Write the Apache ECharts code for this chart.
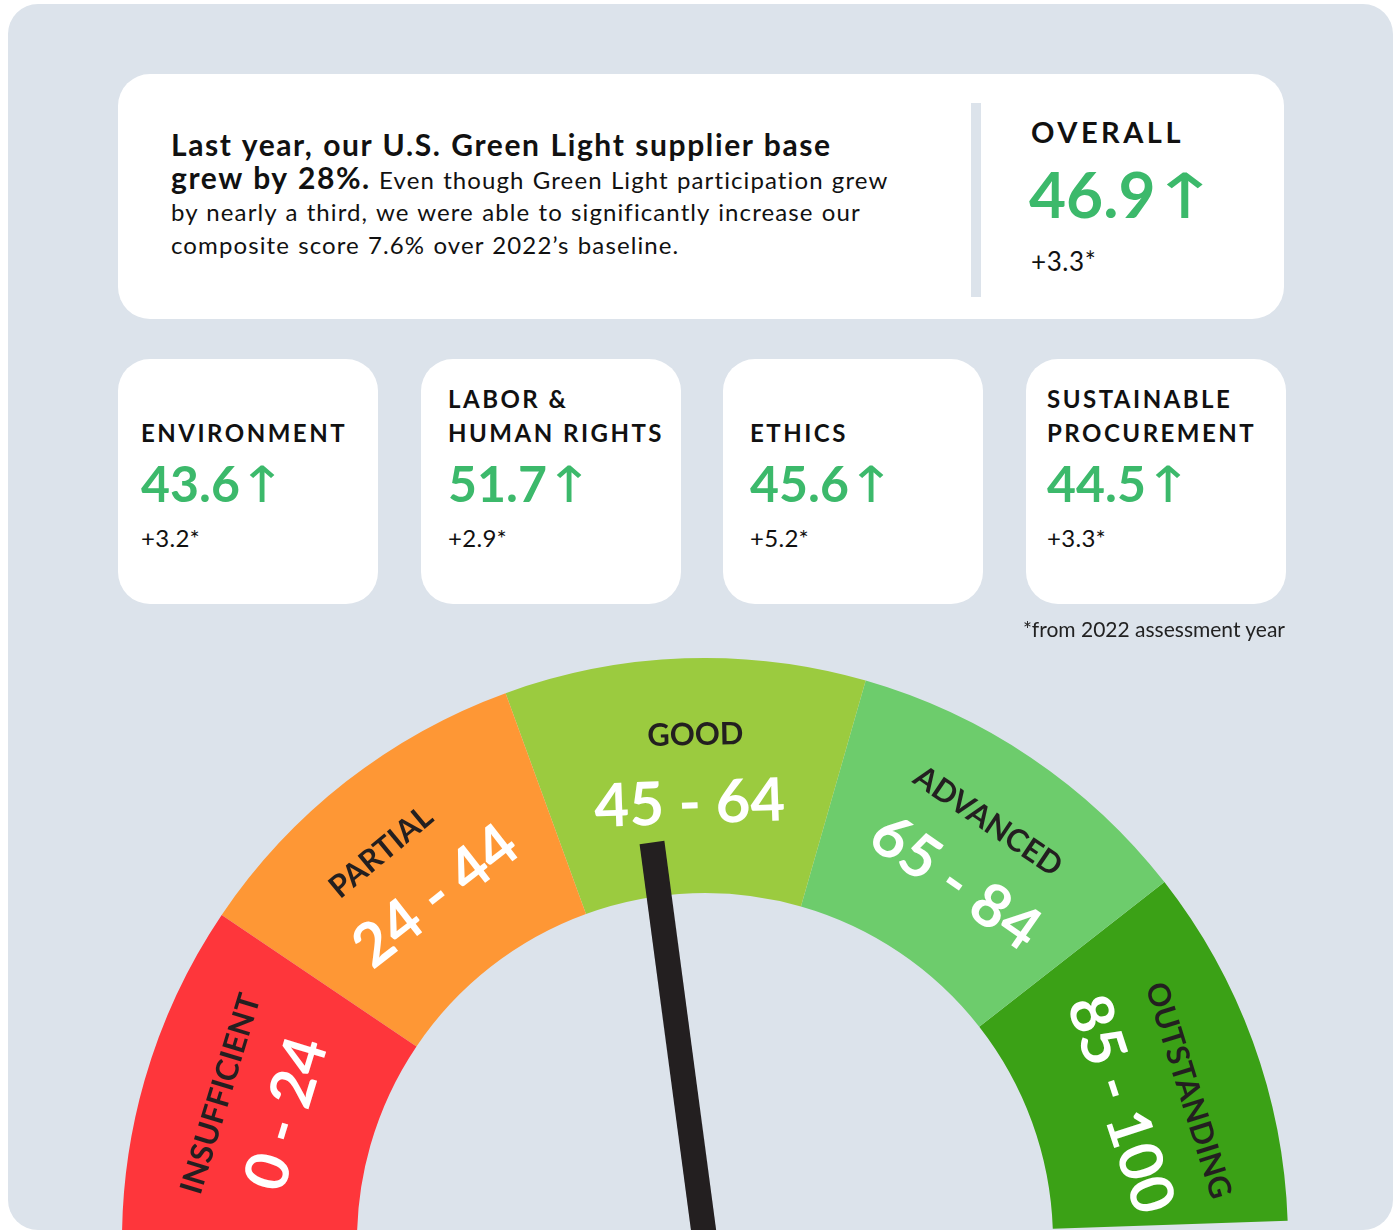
<!DOCTYPE html>
<html>
<head>
<meta charset="utf-8">
<title>Green Light supplier assessment</title>
<script src="https://cdn.jsdelivr.net/npm/echarts@6/dist/echarts.min.js"></script>
<style>
  html, body { margin: 0; padding: 0; background: #fff; }
  body { width: 1395px; height: 1230px; position: relative; overflow: hidden; font-family: Lato, 'Noto Sans', sans-serif; color: #111; }
  .frame { position: absolute; left: 8px; top: 4px; width: 1385px; height: 1226px; border-radius: 30px; background: #dce3eb; }
  #gauge { position: absolute; left: 0; top: 0; width: 1395px; height: 1230px; }
  .card { position: absolute; background: #fff; border-radius: 32px; }
  .abs { position: absolute; white-space: nowrap; line-height: 1; }
  .bold { font-weight: 700; font-size: 30px; letter-spacing: 1.6px; word-spacing: 1px; }
  .body { font-size: 24px; letter-spacing: 1.1px; word-spacing: 1px; }
  .green { color: #3cb96b; font-weight: 700; }
  .arrow { display: inline-block; font-family: 'DejaVu Sans', sans-serif; font-weight: 400; transform-origin: left center; }
  .title { font-weight: 700; letter-spacing: 2.5px; line-height: 34px; }
</style>
</head>
<body>
<div class="frame"></div>
<div id="gauge"></div>
<div id="cards"></div>

<script>
// score bands of the dial
var bandNames = ['INSUFFICIENT', 'PARTIAL', 'GOOD', 'ADVANCED', 'OUTSTANDING']
var bandRanges = ['0 - 24', '24 - 44', '45 - 64', '65 - 84', '85 - 100']
var bandColors = ['#fe363b', '#fe9735', '#9bcb3f', '#6dcc6c', '#3ba116']
// where along the 0-100 dial each band's name and range sit
var nameAt = [10.5, 29, 50.5, 70, 91.5]
var rangeAt = [10.5, 30, 50, 70.5, 91]

// overall composite score
var overallScore = 46.9
var overallChange = '+3.3*'

// pillar scores
var pillarNames = [['ENVIRONMENT'], ['LABOR &', 'HUMAN RIGHTS'], ['ETHICS'], ['SUSTAINABLE', 'PROCUREMENT']]
var pillarScores = [43.6, 51.7, 45.6, 44.5]
var pillarChanges = ['+3.2*', '+2.9*', '+5.2*', '+3.3*']

var footnote = '*from 2022 assessment year'

function el(cls, css, html) {
  var d = document.createElement('div')
  d.className = cls
  d.style.cssText = css
  d.innerHTML = html
  document.getElementById('cards').appendChild(d)
  return d
}

// top card
el('card', 'left:118px;top:74px;width:1166px;height:245px;', '')
el('abs bold', 'left:171px;top:129px;', 'Last year, our U.S. Green Light supplier base')
el('abs body', 'left:171px;top:162px;',
  '<span class="bold">grew by 28%.</span> Even though Green Light participation grew')
el('abs body', 'left:171px;top:200px;', 'by nearly a third, we were able to significantly increase our')
el('abs body', 'left:171px;top:233px;', 'composite score 7.6% over 2022\u2019s baseline.')
el('abs', 'left:971px;top:103px;width:10px;height:194px;background:#dce3eb;', '')
el('abs', 'left:1031px;top:117px;font-size:29px;font-weight:700;letter-spacing:3.5px;', 'OVERALL')
el('abs green', 'left:1029px;top:162px;font-size:64px;',
  overallScore.toFixed(1) + '<span class="arrow" style="font-size:62px;margin-left:-6px;transform:scaleX(1.35)">\u2191</span>')
el('abs', 'left:1031px;top:248px;font-size:26px;letter-spacing:0.6px;', overallChange)

// pillar cards
var cardLeft = [118, 421, 723, 1026]
var cardPad = [23, 27, 27, 21]
pillarNames.forEach(function (name, i) {
  var x = cardLeft[i] + cardPad[i]
  el('card', 'left:' + cardLeft[i] + 'px;top:359px;width:260px;height:245px;', '')
  var top = 442 - 26 - (name.length - 1) * 34
  el('abs title', 'left:' + x + 'px;top:' + top + 'px;font-size:24px;', name.join('<br>'))
  el('abs green', 'left:' + x + 'px;top:458px;font-size:50px;',
    pillarScores[i].toFixed(1) + '<span class="arrow" style="font-size:50px;margin-left:-2px;transform:scaleX(1.15)">\u2191</span>')
  el('abs', 'left:' + x + 'px;top:526px;font-size:24px;letter-spacing:0.3px;', pillarChanges[i])
})
el('abs', 'right:110px;top:618px;font-size:21px;color:#222;', footnote)

// dial
var chart = echarts.init(document.getElementById('gauge'))
var stops = bandColors.map(function (c, i) { return [(i + 1) / bandColors.length, c] })

function bandLabel(list, at) {
  return function (v) {
    var i = at.indexOf(v)
    return i >= 0 ? list[i] : ''
  }
}

var dialBase = {
  type: 'gauge',
  center: [705, 1241],
  radius: 583,
  min: 0,
  max: 100,
  startAngle: 182,
  endAngle: 2,
  splitNumber: 200,
  axisTick: { show: false },
  splitLine: { show: false, length: 0, distance: 0 },
  title: { show: false },
  detail: { show: false },
  anchor: { show: false },
  progress: { show: false }
}

chart.setOption({
  animation: false,
  series: [
    Object.assign({}, dialBase, {
      axisLine: { show: true, roundCap: false, lineStyle: { width: 235, color: stops } },
      pointer: {
        show: true, icon: 'rect', length: 402, width: 25, offsetCenter: [0, 0],
        itemStyle: { color: '#231f20' }
      },
      axisLabel: {
        show: true, distance: 77, rotate: 'tangential', color: '#231f20',
        fontFamily: 'Lato', fontWeight: 'bold', fontSize: 31,
        formatter: bandLabel(bandNames, nameAt)
      },
      data: [{ value: overallScore }]
    }),
    Object.assign({}, dialBase, {
      axisLine: { show: false },
      pointer: { show: false },
      axisLabel: {
        show: true, distance: 146, rotate: 'tangential', color: '#ffffff',
        fontFamily: 'Lato', fontWeight: 'bold', fontSize: 60,
        formatter: bandLabel(bandRanges, rangeAt)
      },
      data: [{ value: overallScore }]
    })
  ]
})
</script>
</body>
</html>
